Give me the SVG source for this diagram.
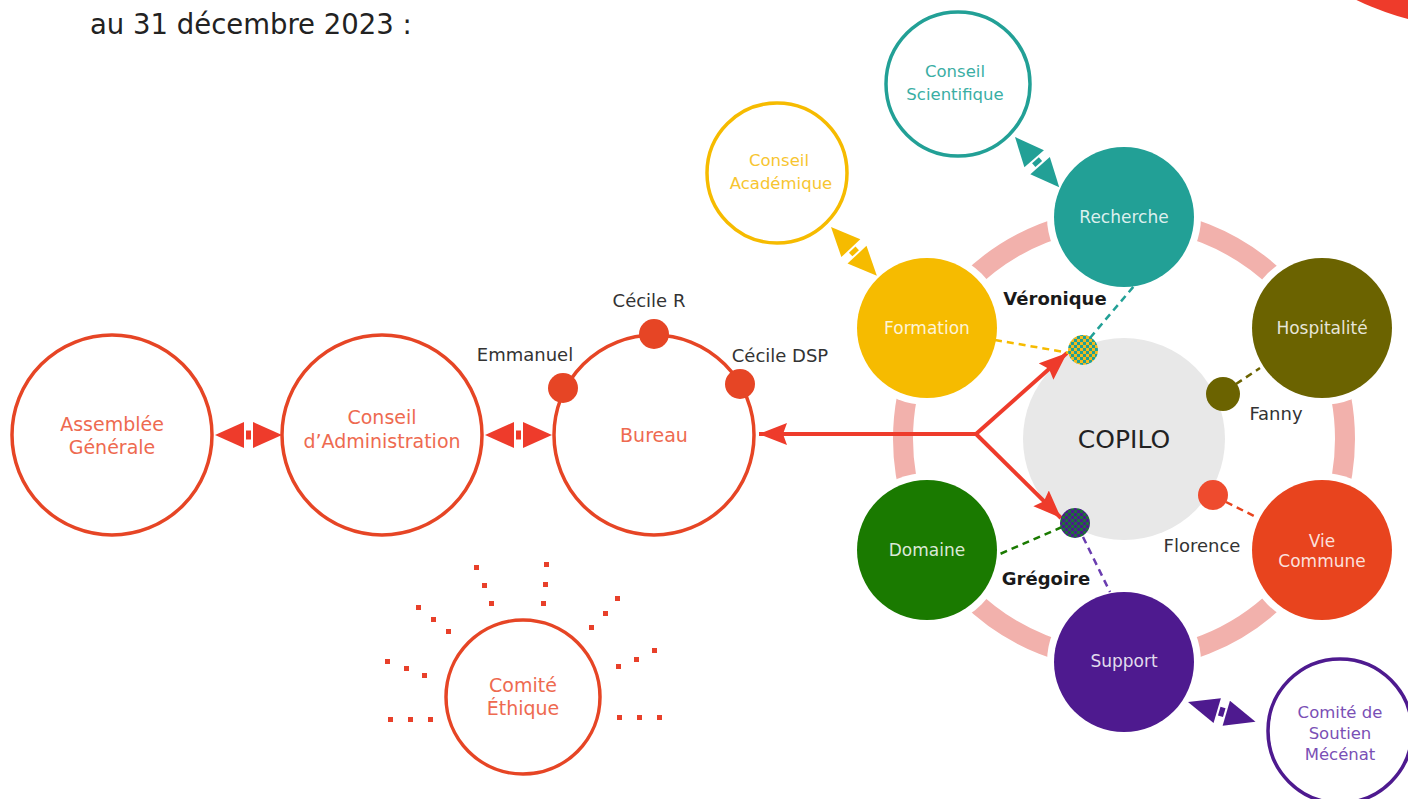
<svg xmlns="http://www.w3.org/2000/svg" xmlns:xlink="http://www.w3.org/1999/xlink" width="1408" height="799" viewBox="0 0 1408 799">
<style>
text{font-family:"DejaVu Sans","Noto Sans",sans-serif;text-anchor:middle}
.lbl{font-size:18px;fill:#333}
.bold{font-weight:bold;fill:#1a1a1a}
.in{font-size:17px;fill:#ffffff;fill-opacity:0.85}
.red-o{fill:#fff;stroke:#E64525;stroke-width:3.5}
.red-t{font-size:19px;fill:#EE6A50}
.dots rect{fill:#E8402A}
.gap{fill:#fff}
</style>
<defs>
<pattern id="chkVY" width="6" height="6" patternUnits="userSpaceOnUse">
<rect width="6" height="6" fill="#21A094"/>
<rect width="3" height="3" fill="#F4BA1C"/>
<rect x="3" y="3" width="3" height="3" fill="#F4BA1C"/>
</pattern>
<pattern id="chkGP" width="6" height="6" patternUnits="userSpaceOnUse">
<rect width="6" height="6" fill="#4A1C8A"/>
<rect width="3" height="3" fill="#1E6E3A"/>
<rect x="3" y="3" width="3" height="3" fill="#1E6E3A"/>
</pattern>
<g id="dbl">
<polygon points="0,0 29,-13 29,13"/>
<rect x="31" y="-4.5" width="5" height="9"/>
<polygon points="67,0 38,-13 38,13"/>
</g>
<marker id="ah" markerUnits="userSpaceOnUse" markerWidth="30" markerHeight="24" refX="28" refY="11" orient="auto">
<polygon points="0,0 28,11 0,22 4,11" fill="#EE3B2B"/>
</marker>
</defs>

<text x="90" y="34" style="font-size:27.5px;fill:#222;text-anchor:start">au 31 décembre 2023 :</text>
<circle cx="1478" cy="-250" r="278" fill="#EE3B2B"/>

<g id="ring">
<circle cx="1124" cy="439" r="221" fill="none" stroke="#F2B1AC" stroke-width="20"/>
</g>

<g id="assemblee">
<circle cx="112" cy="435" r="100" class="red-o"/>
<text class="red-t" x="112" y="431">Assemblée</text>
<text class="red-t" x="112" y="454">Générale</text>
</g>
<g id="conseil-admin">
<circle cx="382" cy="435" r="100" class="red-o"/>
<text class="red-t" x="382" y="424">Conseil</text>
<text class="red-t" x="382" y="448">d’Administration</text>
</g>
<g id="bureau">
<circle cx="654" cy="435" r="100" class="red-o"/>
<text class="red-t" x="654" y="442">Bureau</text>
<circle cx="654" cy="334" r="15" fill="#E64525"/>
<circle cx="563" cy="388" r="15" fill="#E64525"/>
<circle cx="740" cy="384" r="15" fill="#E64525"/>
<text class="lbl" x="649" y="307">Cécile R</text>
<text class="lbl" x="525" y="361">Emmanuel</text>
<text class="lbl" x="780" y="362">Cécile DSP</text>
</g>
<g id="comite-ethique">
<circle cx="523" cy="697" r="77" class="red-o"/>
<text class="red-t" x="523" y="692">Comité</text>
<text class="red-t" x="523" y="715">Éthique</text>
<g class="dots">
<rect x="388" y="717" width="5" height="5"/><rect x="408" y="717" width="5" height="5"/><rect x="428" y="717" width="5" height="5"/>
<rect x="617" y="715" width="5" height="5"/><rect x="637" y="715" width="5" height="5"/><rect x="657" y="715" width="5" height="5"/>
<rect x="385" y="659" width="5" height="5"/><rect x="404" y="666" width="5" height="5"/><rect x="422" y="673" width="5" height="5"/>
<rect x="616" y="664" width="5" height="5"/><rect x="634" y="657" width="5" height="5"/><rect x="652" y="648" width="5" height="5"/>
<rect x="416" y="605" width="5" height="5"/><rect x="431" y="617" width="5" height="5"/><rect x="446" y="629" width="5" height="5"/>
<rect x="589" y="625" width="5" height="5"/><rect x="603" y="611" width="5" height="5"/><rect x="615" y="596" width="5" height="5"/>
<rect x="474" y="565" width="5" height="5"/><rect x="482" y="583" width="5" height="5"/><rect x="489" y="601" width="5" height="5"/>
<rect x="544" y="562" width="5" height="5"/><rect x="543" y="582" width="5" height="5"/><rect x="541" y="601" width="5" height="5"/>
</g>
</g>

<g id="copilo">
<circle cx="1124" cy="439" r="101" fill="#E8E8E8"/>
<text x="1124" y="448" style="font-size:25px;fill:#222">COPILO</text>
</g>
<g id="recherche">
<circle cx="1124" cy="217" r="77" class="gap"/>
<circle cx="1124" cy="217" r="70" fill="#22A096"/>
<text class="in" x="1124" y="223">Recherche</text>
</g>
<g id="hospitalite">
<circle cx="1322" cy="328" r="77" class="gap"/>
<circle cx="1322" cy="328" r="70" fill="#6B6300"/>
<text class="in" x="1322" y="334">Hospitalité</text>
</g>
<g id="vie-commune">
<circle cx="1322" cy="550" r="77" class="gap"/>
<circle cx="1322" cy="550" r="70" fill="#E8441E"/>
<text class="in" x="1322" y="547">Vie</text>
<text class="in" x="1322" y="567">Commune</text>
</g>
<g id="support">
<circle cx="1124" cy="662" r="77" class="gap"/>
<circle cx="1124" cy="662" r="70" fill="#4E1A8F"/>
<text class="in" x="1124" y="667">Support</text>
</g>
<g id="domaine">
<circle cx="927" cy="550" r="77" class="gap"/>
<circle cx="927" cy="550" r="70" fill="#1A7A00"/>
<text class="in" x="927" y="556">Domaine</text>
</g>
<g id="formation">
<circle cx="927" cy="328" r="77" class="gap"/>
<circle cx="927" cy="328" r="70" fill="#F6BB00"/>
<text class="in" x="927" y="334">Formation</text>
</g>

<g id="conseil-scientifique">
<circle cx="958" cy="84" r="72" fill="#fff" stroke="#22A096" stroke-width="3.5"/>
<text x="955" y="77" style="font-size:16.5px;fill:#3AAEA4">Conseil</text>
<text x="955" y="100" style="font-size:16.5px;fill:#3AAEA4">Scientifique</text>
</g>
<g id="conseil-academique">
<circle cx="777" cy="173" r="70" fill="#fff" stroke="#F6BB00" stroke-width="3.5"/>
<text x="779" y="166" style="font-size:16.5px;fill:#F7C530">Conseil</text>
<text x="781" y="189" style="font-size:16.5px;fill:#F7C530">Académique</text>
</g>
<g id="comite-soutien">
<circle cx="1340" cy="731" r="72" fill="#fff" stroke="#4E1A8F" stroke-width="3.5"/>
<text x="1340" y="718" style="font-size:16.5px;fill:#7A4FB5">Comité de</text>
<text x="1340" y="739" style="font-size:16.5px;fill:#7A4FB5">Soutien</text>
<text x="1340" y="760" style="font-size:16.5px;fill:#7A4FB5">Mécénat</text>
</g>

<g id="connectors">
<g fill="#EE3B2B">
<use xlink:href="#dbl" transform="translate(215,435)"/>
<use xlink:href="#dbl" transform="translate(485,435)"/>
</g>
<use xlink:href="#dbl" fill="#22A096" transform="translate(1015,137) rotate(48.7)"/>
<use xlink:href="#dbl" fill="#F6BB00" transform="translate(831,227) rotate(46.8)"/>
<use xlink:href="#dbl" fill="#4E1A8F" transform="translate(1188,702) rotate(16.4) scale(1.05,1)"/>
<g stroke="#EE3B2B" stroke-width="4" fill="none">
<line x1="976" y1="434" x2="759" y2="434" marker-end="url(#ah)"/>
<line x1="976" y1="434" x2="1067" y2="353" marker-end="url(#ah)"/>
<line x1="976" y1="434" x2="1061" y2="518" marker-end="url(#ah)"/>
</g>
<g stroke-width="2.5" stroke-dasharray="7,5" fill="none">
<line x1="995" y1="340" x2="1070" y2="353" stroke="#F6BB00"/>
<line x1="1090" y1="338" x2="1134" y2="286" stroke="#22A096"/>
<line x1="1236" y1="384" x2="1260" y2="368" stroke="#6B6300"/>
<line x1="1226" y1="502" x2="1256" y2="517" stroke="#E8441E"/>
<line x1="1062" y1="527" x2="1000" y2="554" stroke="#1A7A00"/>
<line x1="1083" y1="537" x2="1110" y2="592" stroke="#6A3DB0"/>
</g>
</g>

<g id="veronique">
<circle cx="1083" cy="350" r="15" fill="url(#chkVY)"/>
<text class="lbl bold" x="1055" y="305">Véronique</text>
</g>
<g id="gregoire">
<circle cx="1075" cy="523" r="15" fill="url(#chkGP)"/>
<text class="lbl bold" x="1046" y="585">Grégoire</text>
</g>
<g id="fanny">
<circle cx="1223" cy="394" r="17" fill="#6B6300"/>
<text class="lbl" x="1276" y="420">Fanny</text>
</g>
<g id="florence">
<circle cx="1213" cy="495" r="15" fill="#EE4B2E"/>
<text class="lbl" x="1202" y="552">Florence</text>
</g>
</svg>
